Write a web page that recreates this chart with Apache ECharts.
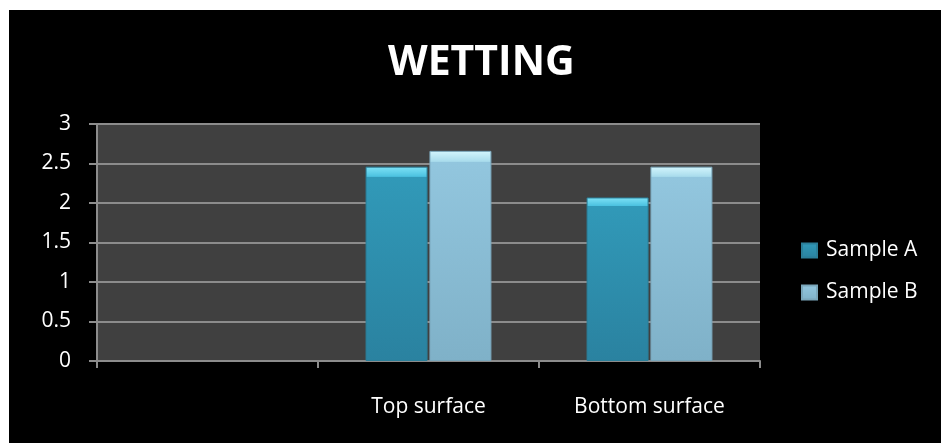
<!DOCTYPE html>
<html>
<head>
<meta charset="utf-8">
<title>Wetting</title>
<script src="https://cdn.jsdelivr.net/npm/echarts@6/dist/echarts.min.js"></script>
<style>
    html, body { margin: 0; padding: 0; background: #fff; }
    #chart { position: absolute; left: 9px; top: 10px; width: 932px; height: 433px; background: #000; }
</style>
</head>
<body>
<div id="chart"></div>
<script>
// chart data
var categories = ['', 'Top surface', 'Bottom surface'];
var sampleA = [null, 2.46, 2.07];
var sampleB = [null, 2.66, 2.46];
var seriesNames = ['Sample A', 'Sample B'];

var FONT = 'Open Sans';

function barColor(top, mid, body, bottom) {
    // bevel-ish top band then the body gradient
    return new echarts.graphic.LinearGradient(0, 0, 0, 1, [
        { offset: 0, color: top },
        { offset: 0.05, color: mid },
        { offset: 0.055, color: body },
        { offset: 1, color: bottom }
    ]);
}

var myChart = echarts.init(document.getElementById('chart'));
var option = {
    animation: false,
    backgroundColor: '#000',
    title: {
        text: 'WETTING',
        left: 379,
        top: 33,
        padding: 0,
        textStyle: { color: '#fff', fontSize: 41, fontWeight: 'bold', fontFamily: FONT }
    },
    legend: {
        orient: 'vertical',
        left: 787,
        top: 225,
        itemWidth: 15,
        itemHeight: 14,
        itemGap: 21,
        icon: 'rect',
        data: seriesNames,
        textStyle: { color: '#fff', fontSize: 21, fontFamily: FONT, padding: [0, 0, 0, 4] }
    },
    grid: {
        left: 88, right: 181, top: 114, bottom: 82,
        show: true,
        backgroundColor: '#404040',
        borderWidth: 0
    },
    xAxis: {
        type: 'category',
        data: categories,
        axisLine: { lineStyle: { color: '#8c8c8c', width: 2 } },
        axisTick: { show: true, interval: 0, length: 7, lineStyle: { color: '#8c8c8c', width: 2 } },
        axisLabel: { color: '#fff', fontSize: 21, fontFamily: FONT, margin: 36, interval: 0 }
    },
    yAxis: {
        type: 'value',
        min: 0,
        max: 3,
        interval: 0.5,
        axisLine: { show: true, lineStyle: { color: '#8c8c8c', width: 2 } },
        axisTick: { show: true, length: 8, lineStyle: { color: '#8c8c8c', width: 2 } },
        axisLabel: { color: '#fff', fontSize: 21, fontFamily: FONT, margin: 26 },
        splitLine: { lineStyle: { color: '#8c8c8c', width: 2 } }
    },
    series: [
        {
            name: seriesNames[0],
            type: 'bar',
            data: sampleA,
            barWidth: 62,
            barGap: '3%',
            itemStyle: {
                color: barColor('#7fe3f7', '#4cc2e0', '#3199b8', '#2a82a0'),
                borderColor: '#2b7f99',
                borderWidth: 1
            }
        },
        {
            name: seriesNames[1],
            type: 'bar',
            data: sampleB,
            barWidth: 62,
            itemStyle: {
                color: barColor('#d4f6fd', '#a9dcec', '#92c6de', '#7fb1c8'),
                borderColor: '#7aa6ba',
                borderWidth: 1
            }
        }
    ]
};
myChart.setOption(option);
</script>
</body>
</html>
